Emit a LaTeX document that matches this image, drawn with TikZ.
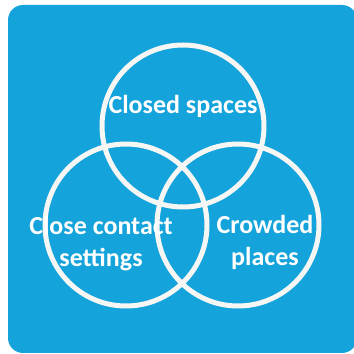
\documentclass[tikz,border=0pt]{standalone}
\usepackage{fontspec}
\setmainfont{Carlito}
\definecolor{panelblue}{RGB}{20,163,219}
\definecolor{ringwhite}{RGB}{246,247,244}
\tikzset{
  ring/.style={draw=ringwhite, line width=5pt},
  label/.style={text=white, font=\bfseries\fontsize{26}{32}\selectfont, align=center, inner sep=0pt}
}
\begin{document}
\begin{tikzpicture}[x=1pt,y=1pt]
  \useasboundingbox (0,0) rectangle (354,354);
  \fill[white] (0,0) rectangle (354,354);
  \begin{scope}
    \clip (0,0) rectangle (354,354);
    \fill[panelblue, rounded corners=15pt] (8,1) rectangle (357,349);
  \end{scope}
  \draw
    (183,228) coordinate (top)
    (126,129) coordinate (left)
    (238,129) coordinate (right);
  \draw[ring] (top) circle (81);
  \draw[ring] (left) circle (81);
  \draw[ring] (right) circle (81);
  \node[label] (closed) at (183,248) {Closed spaces};
  \node[label] (contact) at (101,110) {Close contact\\settings};
  \node[label] (crowded) at (265,112) {Crowded\\places};
\end{tikzpicture}
\end{document}
